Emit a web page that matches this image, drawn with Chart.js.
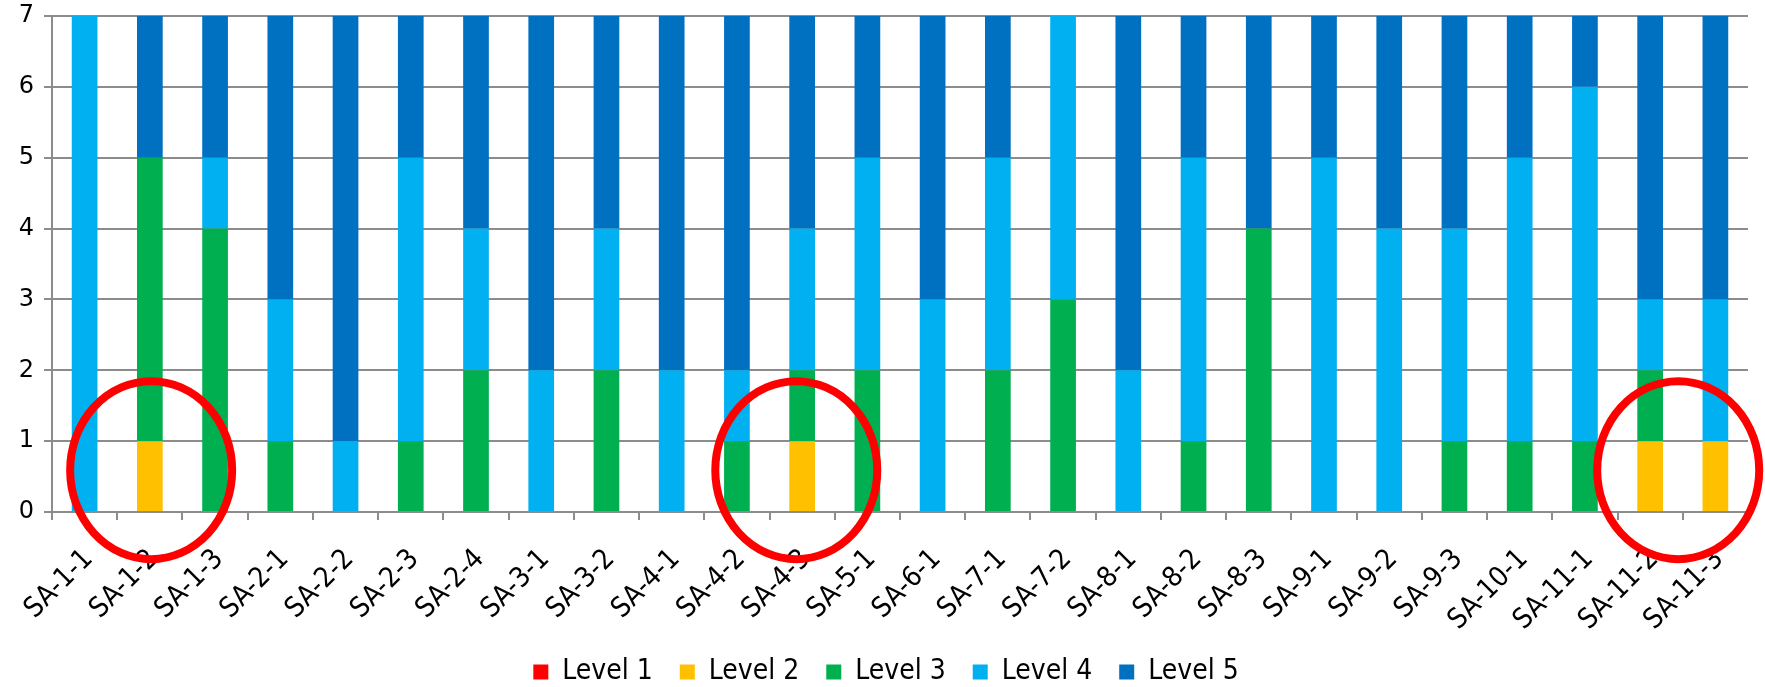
<!DOCTYPE html>
<html>
<head>
<meta charset="utf-8">
<script src="https://cdn.jsdelivr.net/npm/chart.js@4/dist/chart.umd.min.js"></script>
<style>
body { margin: 0; background: #fff; }
#box { width: 1765px; height: 687px; }
</style>
</head>
<body>
<div id="box"><canvas id="myChart"></canvas></div>
<script>
let labels = ['SA-1-1','SA-1-2','SA-1-3','SA-2-1','SA-2-2','SA-2-3','SA-2-4','SA-3-1','SA-3-2','SA-4-1','SA-4-2','SA-4-3','SA-5-1',
  'SA-6-1','SA-7-1','SA-7-2','SA-8-1','SA-8-2','SA-8-3','SA-9-1','SA-9-2','SA-9-3','SA-10-1','SA-11-1','SA-11-2','SA-11-3'];
let level1 = [0,0,0,0,0,0,0,0,0,0,0,0,0,0,0,0,0,0,0,0,0,0,0,0,0,0];
let level2 = [0,1,0,0,0,0,0,0,0,0,0,1,0,0,0,0,0,0,0,0,0,0,0,0,1,1];
let level3 = [0,4,4,1,0,1,2,0,2,0,1,1,2,0,2,3,0,1,4,0,0,1,1,1,1,0];
let level4 = [7,0,1,2,1,4,2,2,2,2,1,2,3,3,3,4,2,4,0,5,4,3,4,5,1,2];
let level5 = [0,2,2,4,6,2,3,5,3,5,5,3,2,4,2,0,5,2,3,2,3,3,2,1,4,4];
let yTicks = [0,1,2,3,4,5,6,7];

// red rings, in category units / value units
let ringAt = [1.02, 10.91, 24.43];
let ringValue = 0.59;

let colors = ['#FF0000','#FFC000','#00B050','#00B0F0','#0070C0'];
let font = 'DejaVu Sans';
let narrow = '"DejaVu Sans Condensed", "DejaVu Sans"';

let rings = {
  id: 'rings',
  afterDatasetsDraw: function (chart) {
    let ctx = chart.ctx;
    let x = chart.scales.x, y = chart.scales.y;
    ctx.save();
    ctx.strokeStyle = '#FF0000';
    ctx.lineWidth = 8;
    for (let i = 0; i < ringAt.length; i++) {
      ctx.beginPath();
      ctx.ellipse(x.getPixelForValue(ringAt[i]), y.getPixelForValue(ringValue), 81, 89, 0, 0, Math.PI * 2);
      ctx.stroke();
    }
    ctx.restore();
  }
};

// put the legend row near the bottom edge, a bit right of centre
let legendDown = {
  id: 'legendDown',
  afterLayout: function (chart) {
    let lg = chart.legend;
    let dy = 672 - (lg.top + 27 + 14);
    lg.top += dy;
    lg.bottom += dy;
    lg.left += 12;
    lg.right += 12;
  }
};

function ds(name, data, c) {
  return { label: name, data: data, backgroundColor: c, borderWidth: 0,
    categoryPercentage: 1, barPercentage: 0.394 };
}

let chart = new Chart(document.getElementById('myChart').getContext('2d'), {
  type: 'bar',
  data: {
    labels: labels,
    datasets: [
      ds('Level 1', level1, colors[0]),
      ds('Level 2', level2, colors[1]),
      ds('Level 3', level3, colors[2]),
      ds('Level 4', level4, colors[3]),
      ds('Level 5', level5, colors[4])
    ]
  },
  options: {
    responsive: true,
    maintainAspectRatio: false,
    animation: false,
    layout: { padding: { top: 16, right: 17, left: 0, bottom: -40 } },
    plugins: {
      tooltip: { enabled: false },
      legend: {
        position: 'bottom',
        labels: { boxWidth: 15, boxHeight: 15, padding: 27, color: '#000',
          font: { family: narrow, size: 28 } }
      }
    },
    scales: {
      x: {
        stacked: true,
        grid: { drawOnChartArea: false, drawTicks: true, tickLength: 8, color: '#8c8c8c', lineWidth: 2 },
        border: { color: '#8c8c8c', width: 2 },
        ticks: { autoSkip: false, minRotation: 45, maxRotation: 45, color: '#000', padding: 23, labelOffset: 4,
          font: { family: narrow, size: 28 } },
        afterFit: function (s) { s.height = 150; s.paddingLeft = 0; s.paddingRight = 0; }
      },
      y: {
        stacked: true,
        min: 0, max: 7,
        afterBuildTicks: function (s) { s.ticks = yTicks.map(function (v) { return { value: v }; }); },
        grid: { color: '#8c8c8c', lineWidth: 2, tickLength: 8 },
        border: { color: '#8c8c8c', width: 2 },
        ticks: { color: '#000', padding: 10, font: { family: font, size: 24 } },
        afterFit: function (s) { s.width = 52; s.paddingTop = 0; s.paddingBottom = 0; }
      }
    }
  },
  plugins: [rings, legendDown]
});
</script>
</body>
</html>
